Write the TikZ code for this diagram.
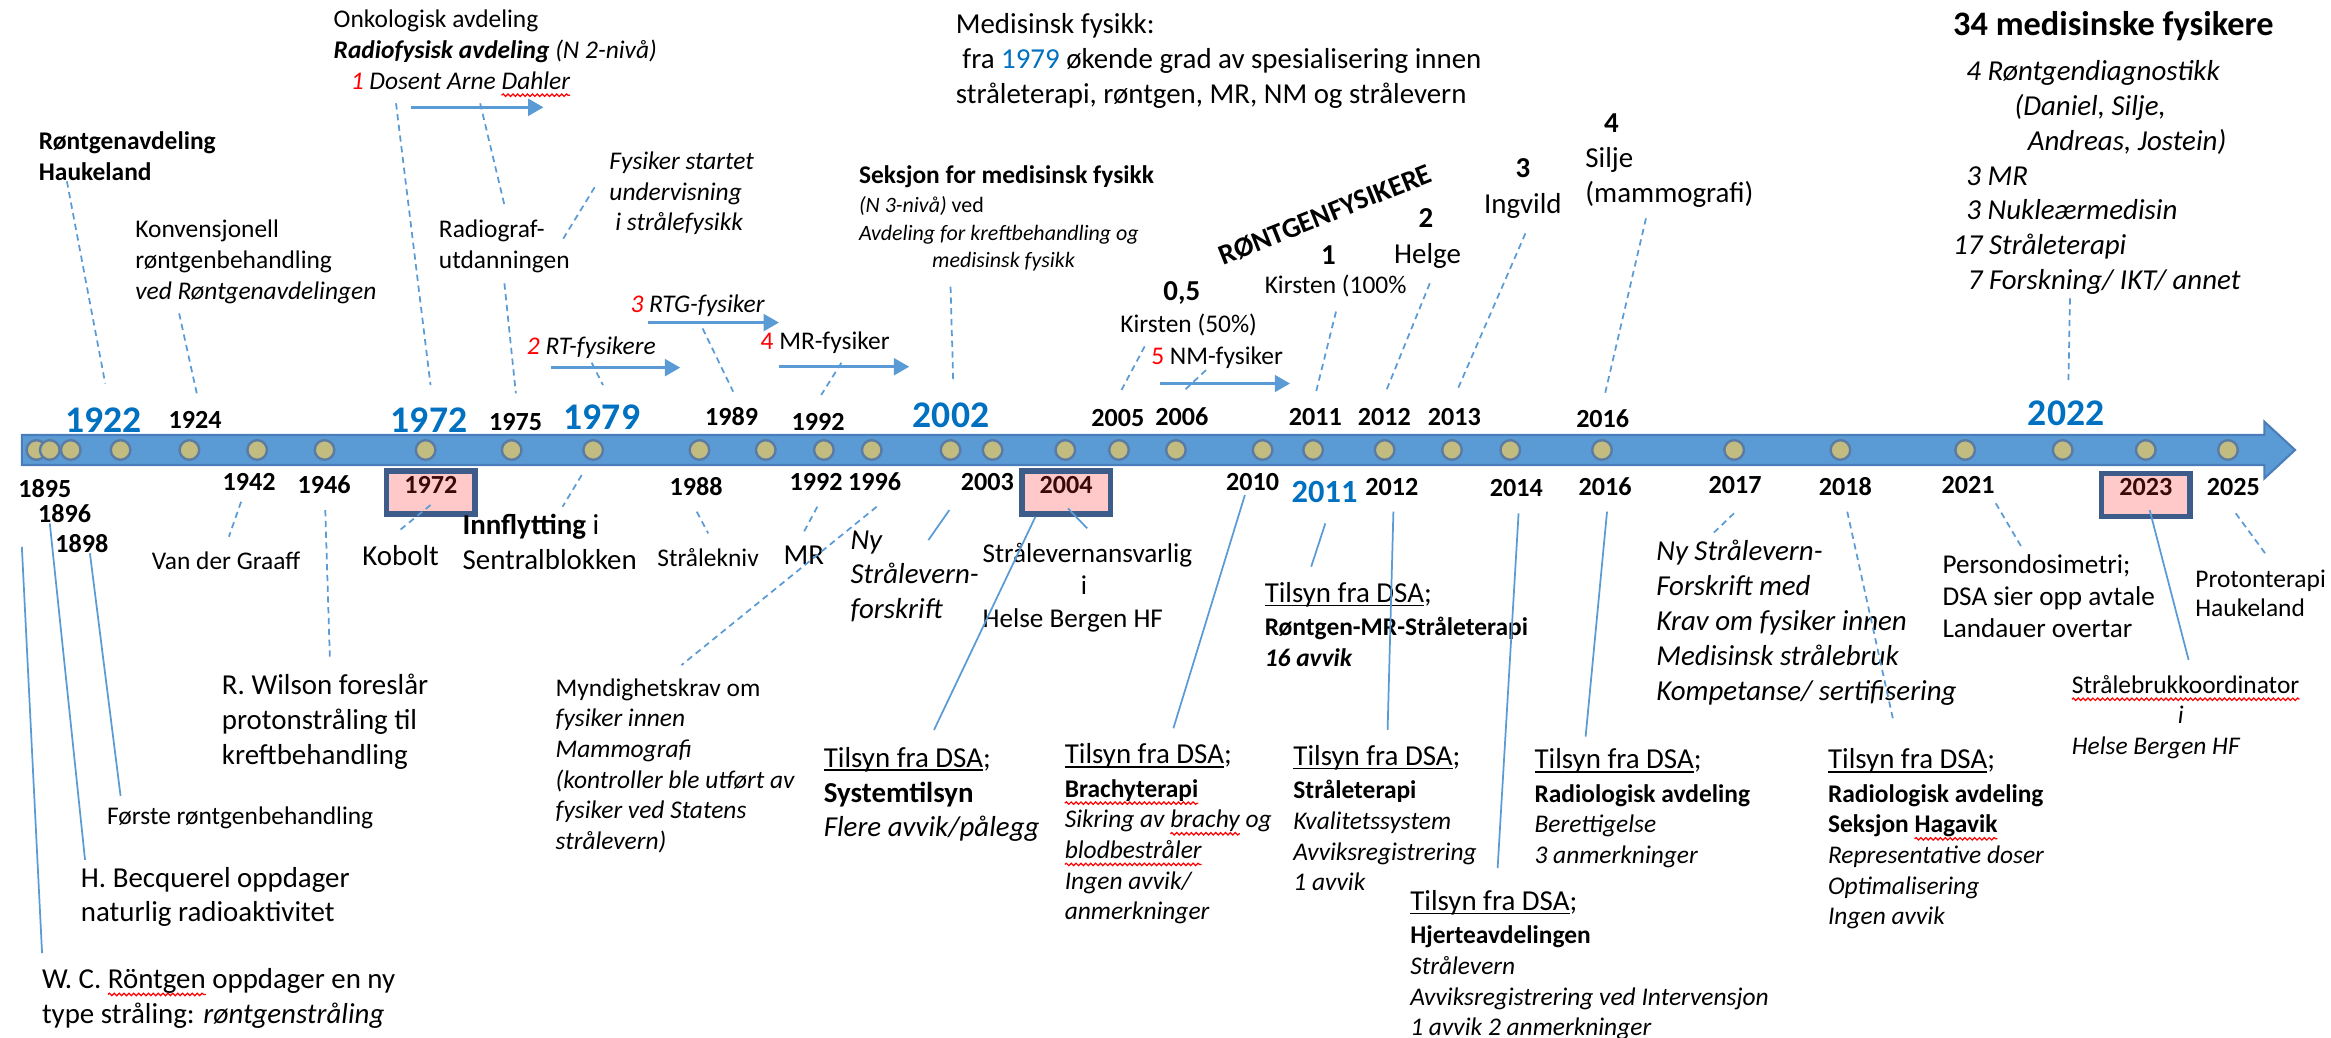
\documentclass[tikz,border=0pt]{standalone}
\usepackage{fontspec}
\setmainfont{Carlito}
\usetikzlibrary{arrows.meta, calc, decorations.pathmorphing}

\definecolor{barblue}{HTML}{5B9BD5}
\definecolor{baredge}{HTML}{4A7EBB}
\definecolor{dotfill}{HTML}{C3BC80}
\definecolor{dotedge}{HTML}{5A7CA4}
\definecolor{yearblue}{HTML}{0070C0}
\definecolor{linkblue}{HTML}{5B9BD5}
\definecolor{boxedge}{HTML}{3E5C8A}
\definecolor{boxfill}{HTML}{FFC9C9}
\definecolor{boxtext}{HTML}{3A0A0A}

\newcommand\fsS{\fontsize{7.3}{8.8}\selectfont}
\newcommand\fsM{\fontsize{8.3}{10}\selectfont}
\newcommand\fsT{\fontsize{6.3}{7.9}\selectfont}
\newcommand\fsY{\fontsize{7.5}{9}\selectfont}
\newcommand\fsB{\fontsize{10.8}{13}\selectfont}
\newcommand\rd[1]{\textcolor{red}{#1}}
\newsavebox\dsabox
\newcommand\dsaline[1]{\sbox\dsabox{#1}\rlap{\rule[-1.1pt]{\wd\dsabox}{0.45pt}}\usebox\dsabox}
\newcommand\tilsyn{{\fsM\dsaline{Tilsyn fra DSA};}}
\newsavebox\sqbox
\newcommand\sq[1]{\sbox\sqbox{#1}\usebox\sqbox\llap{\tikz[baseline=0pt, overlay]
    \draw[red, line width=0.35pt, decorate, decoration={snake, amplitude=0.35pt, segment length=1.4pt}]
    (-\the\wd\sqbox,-1.7pt) -- (0pt,-1.7pt);}}

\tikzset{
  txt/.style={font=\fsS, inner sep=0pt, anchor=north west, align=left},
  mtxt/.style={txt, font=\fsM},
  yr/.style={font=\fsY\bfseries, inner sep=0pt},
  byr/.style={font=\fsB\bfseries, text=yearblue, inner sep=0pt},
  byrs/.style={font=\fontsize{9.3}{11}\selectfont\bfseries, text=yearblue, inner sep=0pt},
  nr/.style={font=\fontsize{8.3}{10}\selectfont\bfseries, inner sep=0pt},
  yrbox/.style={draw=boxedge, line width=1.5pt, fill=boxfill, text=boxtext,
    font=\fsY\bfseries, minimum width=25.4pt, minimum height=12.4pt,
    inner sep=0pt, text height=4.7pt, text depth=4.2pt},
  dline/.style={draw=linkblue, line width=0.5pt, dash pattern=on 1.8pt off 1.3pt},
  sline/.style={draw=linkblue, line width=0.5pt},
  tlarrow/.style={draw=linkblue, line width=0.85pt, -{Triangle[length=4.4pt,width=4.8pt]}},
  tldot/.style={fill=dotfill, draw=dotedge, line width=0.7pt},
}

\begin{document}
\begin{tikzpicture}[x=0.015cm, y=-0.015cm]
    \useasboundingbox (0,0) rectangle (1568,698);

    \draw[fill=barblue, draw=baredge, line width=0.6pt] (14.7,292.6) -- (1523.2,292.6) -- (1523.2,283.7)
        -- (1543.8,302.7) -- (1523.2,321.8) -- (1523.2,312.8) -- (14.7,312.8) -- cycle;
    \foreach \x in {24.5,33.5,47.6,81.1,127.4,173,218.3,286.3,344.2,399,470.5,515.1,554.2,586.4,639.4,667.7,
                    716.6,752.7,791,849.3,883.3,931.4,976.7,1015.9,1077.6,1166.5,1238,1321.9,1387.5,1443.4,1498.7} {
        \draw[tldot] (\x,302.7) circle (6.6);
    }

    \foreach \yr/\x/\y/\st in {1922/69.5/282.6/byr, 1924/131.3/282.6/yr, 1972/288.6/282.6/byr, 1975/346.9/283.7/yr,
                               1979/404.9/280.3/byr, 1989/492.1/280.3/yr, 1992/550.3/283.7/yr, 2002/639.7/279.2/byr,
                               2005/751.9/281.4/yr, 2006/795/280.3/yr, 2011/884.8/280.3/yr, 2012/931.2/280.3/yr,
                               2013/978.3/280.3/yr, 2016/1078.1/281.4/yr, 2022/1389.8/278.1/byr} {
        \node[\st] (t\yr) at (\x,\y) {\yr};
    }
    \foreach \yr/\x/\y/\st in {1895/30.2/328.5/yr, 1896/43.4/345.8/yr, 1898/55/365.5/yr, 1942/167.5/324/yr,
                               1946/218/326.3/yr, 1988/468.2/327.4/yr, 1992/549/324/yr, 1996/588.4/324/yr,
                               2003/664.1/324/yr, 2010/842.6/324/yr, 2011/891/330.8/byrs, 2012/936.3/327.4/yr,
                               2014/1020/328.5/yr, 2016/1079.7/327.4/yr, 2017/1167.2/326/yr, 2018/1241.3/327.4/yr,
                               2021/1323.9/326.3/yr, 2025/1502.3/327.4/yr} {
        \node[\st] (b\yr) at (\x,\y) {\yr};
    }
    \node[yrbox] (x1972) at (289.8,331.3) {1972};
    \node[yrbox] (x2004) at (717.2,331.3) {2004};
    \node[yrbox] (x2023) at (1443.4,332.8) {2023};

    % over the bar
    \node[txt, font=\fsS\bfseries] (hauk) at (25.7,88.3) {Røntgenavdeling\\Haukeland};
    \node[txt] (konv) at (90.6,147.7) {Konvensjonell\\røntgenbehandling\\\textit{ved Røntgenavdelingen}};
    \node[txt] (onko) at (224,6.5) {Onkologisk avdeling\\\textbf{\textit{Radiofysisk avdeling}} \textit{(N 2-nivå)}\\
        \hspace*{4.9pt}\rd{\textit{1}} \textit{Dosent Arne \sq{Dahler}}};
    \node[txt] (radiograf) at (294.8,147.7) {Radiograf-\\utdanningen};
    \node[txt, font=\fsS\itshape] (undervis) at (409.5,101.7) {Fysiker startet\\undervisning\\\hspace*{1.7pt}i strålefysikk};
    \node[txt] (rtfys) at (354,226.2) {\rd{\textit{2}} \textit{RT-fysikere}};
    \node[txt] (rtgfys) at (423.7,198.2) {\rd{\textit{3}} \textit{RTG-fysiker}};
    \node[txt] (mrfys) at (511.2,222.8) {\rd{4} MR-fysiker};
    \node[txt, font=\fsS\bfseries] (seksjon) at (577.4,110.7) {Seksjon for medisinsk fysikk};
    \node[txt, font=\fsT] (seksjonb) at (577.4,131.9) {\textit{(N 3-nivå)} ved\\\textit{Avdeling for kreftbehandling og}\\
        \hspace*{21pt}\textit{medisinsk fysikk}};
    \node[mtxt] (medfys) at (642.5,8.8) {Medisinsk fysikk:\\\hspace*{1.9pt}fra \textcolor{yearblue}{1979} økende grad av spesialisering innen\\
        stråleterapi, røntgen, MR, NM og strålevern};
    \node[nr] (n05) at (795,197.3) {0,5};
    \node[txt] (kirsten50) at (753.2,210.5) {Kirsten (50\%)};
    \node[txt] (nmfys) at (774,233) {\rd{5} NM-fysiker};
    \node[font=\fontsize{8.2}{10}\selectfont\bfseries, inner sep=0pt, rotate=21.8] (rfys) at (891.4,144.5) {RØNTGENFYSIKERE};
    \node[nr] (n1) at (893.6,171.5) {1};
    \node[txt] (kirsten100) at (850.3,184.7) {Kirsten (100\%};
    \node[nr] (n2) at (959.2,146.9) {2};
    \node[mtxt] (helge) at (937.3,163.5) {Helge};
    \node[nr] (n3) at (1024.4,113.2) {3};
    \node[mtxt] (ingvild) at (997.8,129.9) {Ingvild};
    \node[nr] (n4) at (1084,83) {4};
    \node[mtxt] (silje) at (1066,98.5) {Silje\\(mammografi)};
    \node[txt, font=\fontsize{9.85}{12}\selectfont\bfseries] (fys34) at (1313.4,7.5) {34 medisinske fysikere};
    \node[mtxt, font=\fsM\itshape] (fys34b) at (1313.4,40.2) {\hspace*{3.8pt}4 Røntgendiagnostikk\\\hspace*{17.6pt}(Daniel, Silje,\\
        \hspace*{21.4pt}Andreas, Jostein)\\\hspace*{3.8pt}3 MR\\\hspace*{3.8pt}3 Nukleærmedisin\\17 Stråleterapi\\
        \hspace*{4.2pt}7 Forskning/ IKT/ annet};

    % under the bar
    \node[txt] (vdg) at (101.7,371) {Van der Graaff};
    \node[mtxt] (kobolt) at (243.3,366.6) {Kobolt};
    \node[mtxt] (innfl) at (310.7,345.6) {\textbf{Innflytting} i\\Sentralblokken};
    \node[mtxt] (wilson) at (148.8,453) {R. Wilson foreslår\\protonstråling til\\kreftbehandling};
    \node[txt] (forste) at (71.6,542.6) {Første røntgenbehandling};
    \node[mtxt] (becq) at (54,582.8) {H. Becquerel oppdager\\naturlig radioaktivitet};
    \node[mtxt] (wcr) at (27.8,651) {W. C. \sq{Röntgen} oppdager en ny\\type stråling: \textit{røntgenstråling}};
    \node[txt] (kniv) at (441.7,368.6) {Strålekniv};
    \node[mtxt] (mrb) at (526.6,366.5) {MR};
    \node[txt] (mynd) at (373.3,455.9) {Myndighetskrav om\\\textit{fysiker innen}\\\textit{Mammografi}\\
        \textit{(kontroller ble utført av}\\\textit{fysiker ved Statens}\\\textit{strålevern)}};
    \node[mtxt, font=\fsM\itshape] (nyforskr) at (571.7,356.4) {Ny\\Strålevern-\\forskrift};
    \node[txt, font=\fontsize{7.8}{9.4}\selectfont] (sva) at (660.5,364.7) {Strålevernansvarlig\\\hspace*{28.2pt}i\\Helse Bergen HF};
    \node[mtxt] (tsys) at (553.7,502.1) {\dsaline{Tilsyn fra DSA};\\\textbf{Systemtilsyn}\\\textit{Flere avvik/pålegg}};
    \node[txt] (tbrachy) at (715.8,499.8) {\tilsyn\\[0.8pt]\textbf{\sq{Brachyterapi}}\\\textit{Sikring av \sq{brachy} og}\\
        \textit{\sq{blodbestråler}}\\\textit{Ingen avvik/}\\\textit{anmerkninger}};
    \node[txt] (trmr) at (850.3,391.2) {\tilsyn\\[0.8pt]\textbf{Røntgen-MR-Stråleterapi}\\\textbf{\textit{16 avvik}}};
    \node[txt] (tstr) at (869.6,501) {\tilsyn\\[0.8pt]\textbf{Stråleterapi}\\\textit{Kvalitetssystem}\\
        \textit{Avviksregistrering}\\\textit{1 avvik}};
    \node[txt] (thjerte) at (948.2,598.5) {\tilsyn\\[0.8pt]\textbf{Hjerteavdelingen}\\\textit{Strålevern}\\
        \textit{Avviksregistrering ved Intervensjon}\\\textit{1 avvik 2 anmerkninger}};
    \node[txt] (trad) at (1031.8,503.2) {\tilsyn\\[0.8pt]\textbf{Radiologisk avdeling}\\\textit{Berettigelse}\\\textit{3 anmerkninger}};
    \node[mtxt, font=\fsM\itshape] (nystr) at (1113.7,363.1) {Ny Strålevern-\\Forskrift med\\Krav om fysiker innen\\
        Medisinsk strålebruk\\Kompetanse/ sertifisering};
    \node[txt] (thag) at (1229.2,503.2) {\tilsyn\\[0.8pt]\textbf{Radiologisk avdeling}\\\textbf{Seksjon \sq{Hagavik}}\\
        \textit{Representative doser}\\\textit{Optimalisering}\\\textit{Ingen avvik}};
    \node[txt, font=\fontsize{7.8}{9.2}\selectfont] (persdos) at (1306.2,372.6) {Persondosimetri;\\DSA sier opp avtale\\Landauer overtar};
    \node[txt, font=\fontsize{7.3}{8.2}\selectfont] (proton) at (1476.3,383.1) {Protonterapi\\Haukeland};
    \node[txt] (sbk) at (1393.2,453.8) {\sq{Strålebrukkoordinator}\\\hspace*{30.4pt}\textit{i}\\\textit{Helse Bergen HF}};

    % leader ends
    \coordinate (hk-a) at (45,122);       \coordinate (hk-b) at (70.8,258);
    \coordinate (kv-a) at (120.5,210.8);  \coordinate (kv-b) at (132.6,265.7);
    \coordinate (da-a) at (266.4,69.5);   \coordinate (da-b) at (289.6,259);
    \coordinate (ra-a) at (323,69.5);     \coordinate (ra-b) at (339.3,137.9);
    \coordinate (ru-a) at (339.3,190.6);  \coordinate (ru-b) at (347,264.6);
    \coordinate (un-a) at (400,126);      \coordinate (un-b) at (378,162);
    \coordinate (rt-a) at (398,244);      \coordinate (rt-b) at (405.6,259);
    \coordinate (rg-a) at (472.6,220.9);  \coordinate (rg-b) at (493.2,263.5);
    \coordinate (mr-a) at (566,244);      \coordinate (mr-b) at (552.4,265.7);
    \coordinate (sk-a) at (639.4,192.8);  \coordinate (sk-b) at (641.2,256.8);
    \coordinate (kh-a) at (770,233);      \coordinate (kh-b) at (753.2,264.6);
    \coordinate (nm-a) at (811.2,249);    \coordinate (nm-b) at (795.7,263.5);
    \coordinate (kf-a) at (898.7,209.6);  \coordinate (kf-b) at (885.3,263.5);
    \coordinate (he-a) at (961.8,190.6);  \coordinate (he-b) at (932.2,263.5);
    \coordinate (in-a) at (1026.1,157);   \coordinate (in-b) at (979.8,263.5);
    \coordinate (si-a) at (1107.2,146.9); \coordinate (si-b) at (1079.7,264.6);
    \coordinate (ft-a) at (1392.4,200.7); \coordinate (ft-b) at (1391.4,255.7);
    \coordinate (vg-a) at (162.2,337.5);  \coordinate (vg-b) at (154,361);
    \coordinate (ko-a) at (289.6,339.7);  \coordinate (ko-b) at (269,356.6);
    \coordinate (if-a) at (391.3,319.6);  \coordinate (if-b) at (378.4,340.9);
    \coordinate (wi-a) at (218.8,343.1);  \coordinate (wi-b) at (221.9,442.9);
    \coordinate (kn-a) at (468.7,344.2);  \coordinate (kn-b) at (476.4,358.8);
    \coordinate (mb-a) at (549.8,340.9);  \coordinate (mb-b) at (540.8,357.7);
    \coordinate (my-a) at (589.7,340.9);  \coordinate (my-b) at (458.4,447.4);
    \coordinate (ns-a) at (1166.4,345.3); \coordinate (ns-b) at (1152.3,358.8);
    \coordinate (hg-a) at (1242.6,344.2); \coordinate (hg-b) at (1273.5,484.3);
    \coordinate (pd-a) at (1342.5,338.6); \coordinate (pd-b) at (1359.7,367.8);
    \coordinate (pt-a) at (1503.9,345.3); \coordinate (pt-b) at (1523.7,372.2);
    \coordinate (wc-a) at (14.7,367.8);   \coordinate (wc-b) at (28.3,641.2);
    \coordinate (bq-a) at (33.5,352.1);   \coordinate (bq-b) at (57.2,578.4);
    \coordinate (fr-a) at (60.5,372.2);   \coordinate (fr-b) at (81.1,535.4);
    \coordinate (nf-a) at (638.6,343.1);  \coordinate (nf-b) at (624.5,363.3);
    \coordinate (sy-a) at (696.5,347.6);  \coordinate (sy-b) at (628.3,491);
    \coordinate (sv-a) at (718.4,342);    \coordinate (sv-b) at (731.3,355.4);
    \coordinate (br-a) at (837.4,333);    \coordinate (br-b) at (789.3,489.9);
    \coordinate (rm-a) at (891.5,352.1);  \coordinate (rm-b) at (882,381.2);
    \coordinate (st-a) at (937.3,344.2);  \coordinate (st-b) at (933.4,491);
    \coordinate (hj-a) at (1021.5,345.3); \coordinate (hj-b) at (1007.4,584);
    \coordinate (rl-a) at (1081,344.2);   \coordinate (rl-b) at (1066.6,495.5);
    \coordinate (sb-a) at (1446,343.1);   \coordinate (sb-b) at (1472.2,443.9);
    \coordinate (a1-a) at (276.7,72.2);   \coordinate (a1-b) at (365.6,72.2);
    \coordinate (a2-a) at (370.7,247.3);  \coordinate (a2-b) at (457.6,247.3);
    \coordinate (a3-a) at (436,217);      \coordinate (a3-b) at (524,217);
    \coordinate (a4-a) at (524,246.7);    \coordinate (a4-b) at (611.6,246.7);
    \coordinate (a5-a) at (780,258);      \coordinate (a5-b) at (867.8,258);

    \foreach \c in {hk,kv,da,ra,ru,un,rt,rg,mr,sk,kh,nm,kf,he,in,si,ft,vg,ko,if,wi,kn,mb,my,ns,hg,pd,pt} {
        \draw[dline] (\c-a) -- (\c-b);
    }
    \foreach \c in {wc,bq,fr,nf,sy,sv,br,rm,st,hj,rl,sb} {
        \draw[sline] (\c-a) -- (\c-b);
    }
    \foreach \c in {a1,a2,a3,a4,a5} {
        \draw[tlarrow] (\c-a) -- (\c-b);
    }
\end{tikzpicture}
\end{document}
